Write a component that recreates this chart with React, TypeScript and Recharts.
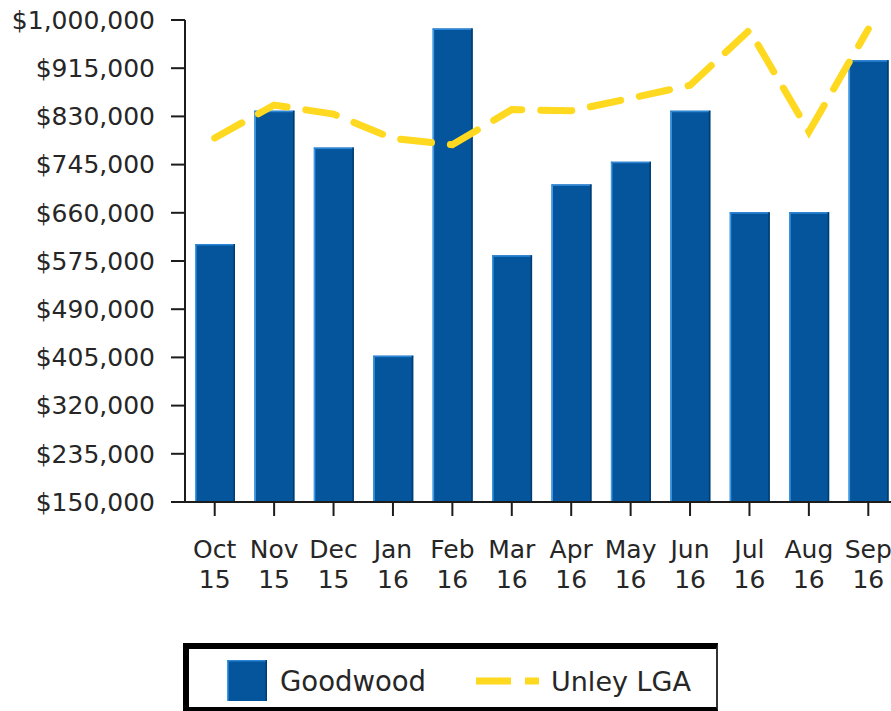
import React from "react";
import { ComposedChart, Bar, Line, XAxis, YAxis } from "recharts";

const months = ["Oct", "Nov", "Dec", "Jan", "Feb", "Mar", "Apr", "May", "Jun", "Jul", "Aug", "Sep"];
const years = ["15", "15", "15", "16", "16", "16", "16", "16", "16", "16", "16", "16"];
const goodwood = [605000, 840000, 775000, 408000, 985000, 585000, 710000, 750000, 840000, 661000, 661000, 929000];
const unleyLGA = [792000, 850000, 834000, 791000, 780000, 842000, 840000, 862000, 885000, 982000, 803000, 984000];
const yTicks = [150000, 235000, 320000, 405000, 490000, 575000, 660000, 745000, 830000, 915000, 1000000];

const data = months.map((m, i) => ({
  label: m + " " + years[i],
  month: m,
  year: years[i],
  goodwood: goodwood[i],
  unley: unleyLGA[i],
}));

const FONT = "'DejaVu Sans', Verdana, sans-serif";
const TEXT = "#262626";
const AXIS = "#1c1c1c";
const BLUE = "#04559B";
const YELLOW = "#FFD820";

const fmt = (v: number) => "$" + v.toLocaleString("en-US");

const XTick = (props: any) => {
  const { x, y, index } = props;
  return (
    <text x={x} y={y} textAnchor="middle" fill={TEXT} fontFamily={FONT} fontSize={25}>
      <tspan x={x} dy={40}>{months[index]}</tspan>
      <tspan x={x} dy={30}>{years[index]}</tspan>
    </text>
  );
};

const BarShape = (props: any) => {
  const { x, y, width, height } = props;
  if (!height || height <= 0) return null;
  return (
    <g>
      <rect x={x} y={y} width={width} height={height} fill={BLUE} />
      <rect x={x} y={y} width={1.5} height={height} fill="#3C9BE8" />
      <rect x={x} y={y} width={width} height={1.5} fill="#2B86D8" />
      <rect x={x + width - 1.5} y={y} width={1.5} height={height} fill="#023D72" />
    </g>
  );
};

export default function App() {
  return (
    <div
      style={{
        position: "fixed",
        left: 0,
        top: 0,
        width: 891,
        height: 711,
        overflow: "hidden",
        background: "#fff",
      }}
    >
      <ComposedChart
        width={900}
        height={602}
        data={data}
        margin={{ top: 20, right: 2, bottom: 0, left: 0 }}
        barSize={40}
      >
        <XAxis
          dataKey="label"
          interval={0}
          height={100}
          tick={<XTick />}
          tickSize={14}
          axisLine={{ stroke: AXIS, strokeWidth: 2 }}
          tickLine={{ stroke: AXIS, strokeWidth: 2 }}
        />
        <YAxis
          width={185}
          domain={[150000, 1000000]}
          ticks={yTicks}
          interval={0}
          tickFormatter={fmt}
          tickSize={14}
          tickMargin={16}
          axisLine={{ stroke: AXIS, strokeWidth: 2 }}
          tickLine={{ stroke: AXIS, strokeWidth: 2 }}
          tick={{ fill: TEXT, fontFamily: FONT, fontSize: 25 }}
        />
        <Bar dataKey="goodwood" fill={BLUE} shape={<BarShape />} isAnimationActive={false} />
        <Line
          dataKey="unley"
          type="linear"
          stroke={YELLOW}
          strokeWidth={7}
          strokeDasharray="31 19"
          strokeLinecap="round"
          dot={false}
          activeDot={false}
          isAnimationActive={false}
        />
      </ComposedChart>
      <div
        style={{
          position: "absolute",
          left: 183,
          top: 643,
          width: 535,
          height: 68,
          boxSizing: "border-box",
          borderTop: "6px solid #000",
          borderLeft: "6px solid #000",
          borderRight: "2px solid #333",
          borderBottom: "4px solid #000",
          background: "#fff",
        }}
      >
        <svg width={527} height={58} style={{ position: "absolute", left: 0, top: 0 }}>
          <rect x={38} y={11} width={40} height={41} fill={BLUE} />
          <rect x={38} y={11} width={1.5} height={41} fill="#3C9BE8" />
          <rect x={38} y={11} width={40} height={1.5} fill="#2B86D8" />
          <rect x={76.5} y={11} width={1.5} height={41} fill="#023D72" />
          <text x={91} y={42} fill={TEXT} fontFamily={FONT} fontSize={27.5}>Goodwood</text>
          <line x1={287} y1={32} x2={322} y2={32} stroke={YELLOW} strokeWidth={7} />
          <line x1={336} y1={32} x2={350} y2={32} stroke={YELLOW} strokeWidth={7} />
          <text x={362} y={42} fill={TEXT} fontFamily={FONT} fontSize={27}>Unley LGA</text>
        </svg>
      </div>
    </div>
  );
}
